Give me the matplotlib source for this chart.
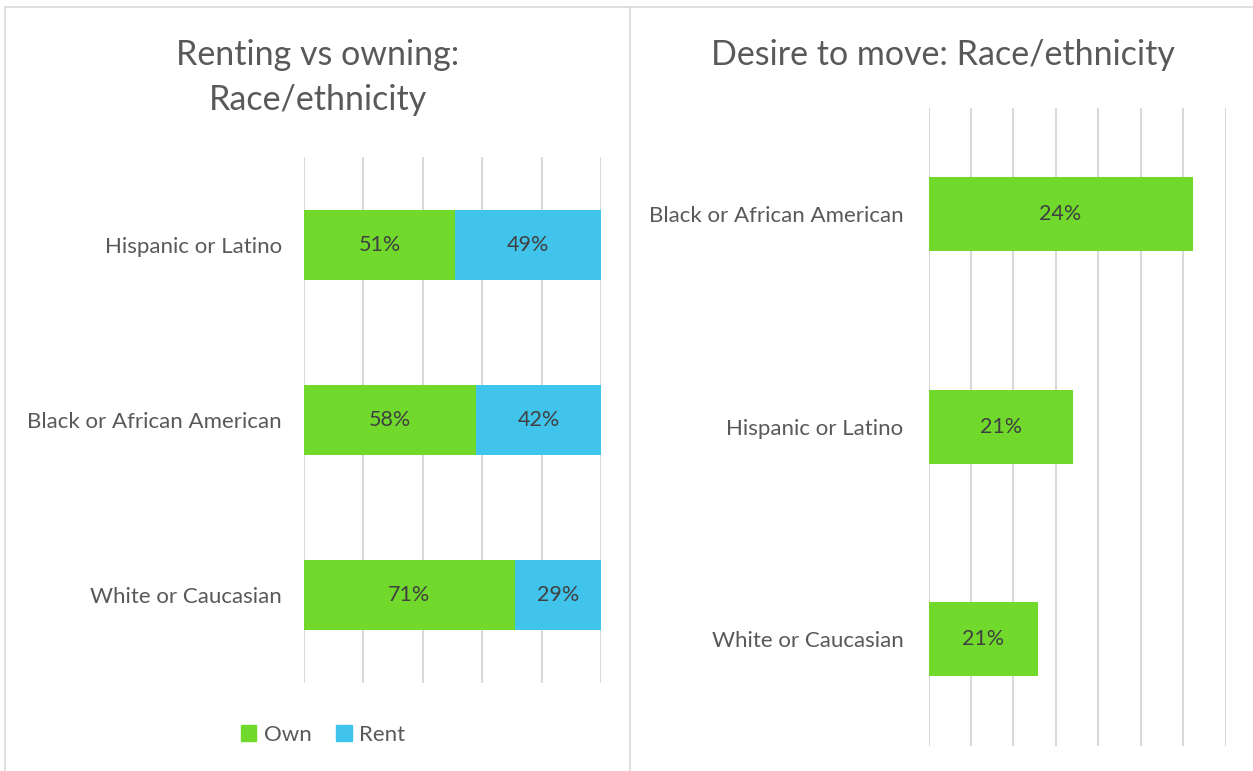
import matplotlib
matplotlib.use("Agg")
import matplotlib.pyplot as plt
from matplotlib.lines import Line2D
from matplotlib.patches import Patch

# ---- data ----
left_categories = ["White or Caucasian", "Black or African American", "Hispanic or Latino"]
own = [0.71, 0.58, 0.51]
rent = [0.29, 0.42, 0.49]

right_categories = ["White or Caucasian", "Hispanic or Latino", "Black or African American"]
move_values = [0.103, 0.136, 0.249]
move_labels = ["21%", "21%", "24%"]

GREEN = "#70D92C"
BLUE = "#40C4EC"
TEXT = "#595959"
LABEL = "#404040"
GRID = "#D9D9D9"
FONT = ["Lato", "DejaVu Sans"]
plt.rcParams["font.family"] = FONT

W, H = 1253, 771
fig = plt.figure(figsize=(W / 100, H / 100), dpi=100)

def px(x0, y_top, w, h):
    return [x0 / W, (H - y_top - h) / H, w / W, h / H]

# frame lines
for seg in [((5, 630), (7, 7)), ((630, 1253), (7, 7)), ((5, 5), (7, 771)), ((630, 630), (7, 771))]:
    fig.add_artist(Line2D([seg[0][0] / W, seg[0][1] / W], [1 - seg[1][0] / H, 1 - seg[1][1] / H],
                          color=GRID, lw=1.2, transform=fig.transFigure))

def style(ax, ticks, lim, pad):
    ax.set_xlim(*lim)
    ax.set_xticks(ticks)
    ax.set_xticklabels([])
    ax.tick_params(axis="x", length=0)
    ax.tick_params(axis="y", length=0, labelsize=16, labelcolor=TEXT, pad=pad)
    for s in ax.spines.values():
        s.set_visible(False)
    ax.grid(axis="x", color=GRID, lw=1.5)
    ax.set_axisbelow(True)

# ---- left chart ----
ax1 = fig.add_axes(px(304, 157, 297, 526))
y = range(len(left_categories))
b1 = ax1.barh(y, own, height=0.4, color=GREEN, label="Own")
b2 = ax1.barh(y, rent, left=own, height=0.4, color=BLUE, label="Rent")
ax1.set_ylim(-0.5, 2.5)
ax1.set_yticks(list(y))
ax1.set_yticklabels(left_categories)
style(ax1, [0, 0.2, 0.4, 0.6, 0.8, 1.0], (0, 1.0), 16)
ax1.bar_label(b1, labels=[f"{v*100:.0f}%" for v in own], label_type="center", color=LABEL, fontsize=15.5)
ax1.bar_label(b2, labels=[f"{v*100:.0f}%" for v in rent], label_type="center", color=LABEL, fontsize=15.5)

fig.text(318 / W, 1 - 55 / H, "Renting vs owning:", ha="center", va="center", fontsize=24.5, color=TEXT)
fig.text(318 / W, 1 - 100 / H, "Race/ethnicity", ha="center", va="center", fontsize=24.5, color=TEXT)

handles = [Patch(color=GREEN, label="Own"), Patch(color=BLUE, label="Rent")]
fig.legend(handles=handles, loc="center", bbox_to_anchor=(323 / W, 1 - 735 / H), ncol=2, frameon=False,
           fontsize=16, labelcolor=TEXT, handlelength=0.7, handleheight=0.7, handletextpad=0.35,
           columnspacing=1.1)

# ---- right chart ----
ax2 = fig.add_axes(px(928.5, 108, 297, 637.5))
y2 = range(len(right_categories))
b3 = ax2.barh(y2, move_values, height=0.35, color=GREEN)
ax2.set_ylim(-0.5, 2.5)
ax2.set_yticks(list(y2))
ax2.set_yticklabels(right_categories)
style(ax2, [0, 0.04, 0.08, 0.12, 0.16, 0.20, 0.24, 0.28], (0, 0.28), 18)
ax2.bar_label(b3, labels=move_labels, label_type="center", color=LABEL, fontsize=15.5)

fig.text(943 / W, 1 - 55 / H, "Desire to move: Race/ethnicity", ha="center", va="center", fontsize=24.5, color=TEXT)

fig.savefig("out.png", dpi=100, facecolor="white")
